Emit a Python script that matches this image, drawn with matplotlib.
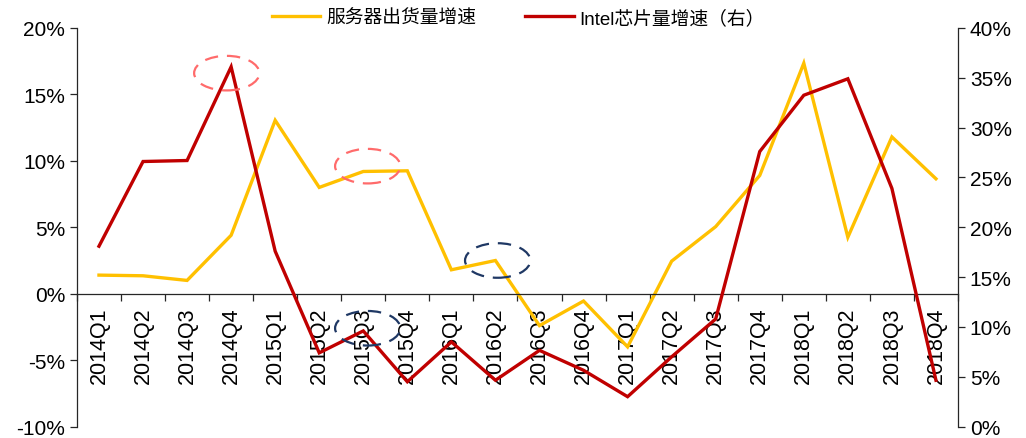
import matplotlib
matplotlib.use('Agg')
import matplotlib.pyplot as plt
from matplotlib.patches import Ellipse
from matplotlib.ticker import FixedLocator, PercentFormatter
import numpy as np

plt.rcParams['font.family'] = ['Liberation Sans', 'Noto Sans CJK SC']
plt.rcParams['axes.unicode_minus'] = False

quarters = ['2014Q1', '2014Q2', '2014Q3', '2014Q4',
            '2015Q1', '2015Q2', '2015Q3', '2015Q4',
            '2016Q1', '2016Q2', '2016Q3', '2016Q4',
            '2017Q1', '2017Q2', '2017Q3', '2017Q4',
            '2018Q1', '2018Q2', '2018Q3', '2018Q4']
# 服务器出货量增速 (left axis, %)
server_growth = [1.4, 1.35, 1.0, 4.4, 13.05, 8.0, 9.2, 9.25, 1.8, 2.5,
                 -2.4, -0.55, -4.0, 2.45, 5.05, 8.9, 17.35, 4.25, 11.8, 8.65]
# Intel芯片量增速 (right axis, %)
intel_growth = [18.1, 26.6, 26.7, 36.1, 17.6, 7.4, 9.6, 4.5, 8.5, 4.65,
                7.65, 5.65, 3.0, 7.0, 10.8, 27.6, 33.25, 34.9, 23.9, 4.65]

server_label = '服务器出货量增速'
intel_label = 'Intel芯片量增速（右）'

yellow = '#FFC000'
red = '#C00000'
spine_c = '#262626'

fig = plt.figure(figsize=(10.26, 4.39), dpi=100)
ax = fig.add_axes([0.075, 0.026, 0.8587, 0.908])
ax2 = ax.twinx()

x = np.arange(len(quarters))
l1, = ax.plot(x, server_growth, color=yellow, lw=2.4, solid_joinstyle='miter')
l2, = ax2.plot(x, intel_growth, color=red, lw=2.4, solid_joinstyle='miter')

ax.set_xlim(-0.5, len(quarters) - 0.5)
ax.set_ylim(-10, 20)
ax2.set_ylim(0, 40)
ax.set_yticks(np.arange(-10, 21, 5))
ax2.set_yticks(np.arange(0, 41, 5))
ax.yaxis.set_major_formatter(PercentFormatter(decimals=0))
ax2.yaxis.set_major_formatter(PercentFormatter(decimals=0))

# x axis sits on the 0% line, ticks between categories, labels at centres
ax.spines['bottom'].set_position(('data', 0))
ax.xaxis.set_major_locator(FixedLocator(np.arange(-0.5, len(quarters), 1.0)))
ax.xaxis.set_minor_locator(FixedLocator(x))
ax.set_xticklabels([], minor=False)
ax.set_xticklabels(quarters, minor=True, rotation=90, fontsize=15.5)
ax.tick_params(axis='x', which='major', length=5, width=0.9,
               direction='out', color=spine_c)
ax.tick_params(axis='x', which='minor', length=0, pad=9)

for a in (ax, ax2):
    a.spines['top'].set_visible(False)
    a.tick_params(axis='y', length=5, width=0.9, direction='out',
                  color=spine_c, labelsize=15)
    for s in a.spines.values():
        s.set_color(spine_c)
        s.set_linewidth(0.9)
ax2.spines['bottom'].set_visible(False)
ax2.spines['left'].set_visible(False)
ax.spines['right'].set_visible(False)

# dashed highlight circles
circles = [(2.9, 16.6, '#FF6B6B'), (6.1, 9.6, '#FF6B6B'),
           (9.05, 2.5, '#1F3864'), (6.1, -2.6, '#1F3864')]
for cx, cy, col in circles:
    e = Ellipse((cx, cy), 1.48, 2.6, fill=False, edgecolor=col, lw=1.6,
                linestyle=(0, (6, 4)), transform=ax.transData, zorder=5)
    ax2.add_patch(e)

fig.legend([l1, l2], [server_label, intel_label], loc='center',
           bbox_to_anchor=(0.505, 0.957), ncol=2, frameon=False, fontsize=13.5,
           handlelength=2.6, columnspacing=2.6, handletextpad=0.3)

fig.savefig('out.png', dpi=100)
